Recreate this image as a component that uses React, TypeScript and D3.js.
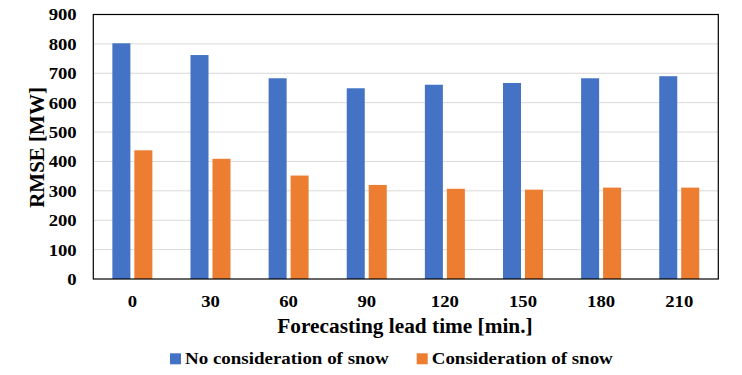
import React from "react";
import * as d3 from "d3";

const categories = ["0", "30", "60", "90", "120", "150", "180", "210"];
const noSnow = [802, 762, 683, 649, 661, 667, 683, 690];
const withSnow = [438, 409, 352, 320, 307, 304, 311, 311];
const seriesNames = ["No consideration of snow", "Consideration of snow"];
const yTicks = [0, 100, 200, 300, 400, 500, 600, 700, 800, 900];

const W = 742;
const H = 375;
const left = 93.3;
const right = 718.3;
const top = 14.5;
const bottom = 279;
const colors = ["#4472C4", "#ED7D31"];
const font = "Liberation Serif";

function SText({ x, y, sx = 1, anchor = "start", size, dy, children }: any) {
  return (
    <g transform={`translate(${x},${y}) scale(${sx},1)`}>
      <text x={0} y={0} dy={dy} textAnchor={anchor} fontSize={size}>
        {children}
      </text>
    </g>
  );
}

export default function App() {
  const y = d3.scaleLinear().domain([0, 900]).range([bottom, top]);
  const x0 = d3
    .scaleBand<string>()
    .domain(categories)
    .range([left, right])
    .paddingInner(0.488)
    .paddingOuter(0.244);
  const x1 = d3
    .scaleBand<string>()
    .domain(seriesNames)
    .range([0, x0.bandwidth()])
    .paddingInner(0.18);
  const series = [noSnow, withSnow];

  return (
    <svg
      width={W}
      height={H}
      style={{ position: "absolute", left: 0, top: 0, background: "#fff", fontFamily: font, fontWeight: 700 }}
    >
      <rect x={0} y={0} width={W} height={H} fill="#fff" />
      {yTicks.map((t) => (
        <g key={t}>
          {t > 0 && t < 900 && (
            <line x1={left} x2={right} y1={y(t)} y2={y(t)} stroke="#d9d9d9" strokeWidth={1} />
          )}
          <SText x={76.7} y={y(t)} dy="0.35em" anchor="end" size={17} sx={1.1}>
            {t}
          </SText>
        </g>
      ))}
      {series.map((vals, si) =>
        vals.map((v, i) => (
          <rect
            key={`${si}-${i}`}
            x={(x0(categories[i]) ?? 0) + (x1(seriesNames[si]) ?? 0)}
            y={y(v)}
            width={x1.bandwidth()}
            height={bottom - y(v)}
            fill={colors[si]}
          />
        ))
      )}
      <rect
        x={left}
        y={top}
        width={right - left}
        height={bottom - top}
        fill="none"
        stroke="#000"
        strokeWidth={1.2}
      />
      {categories.map((c) => (
        <SText
          key={c}
          x={(x0(c) ?? 0) + x0.bandwidth() / 2}
          y={307.3}
          anchor="middle"
          size={17}
          sx={1.1}
        >
          {c}
        </SText>
      ))}
      <SText x={405} y={333} anchor="middle" size={20.5} sx={1.04}>
        Forecasting lead time [min.]
      </SText>
      <text
        transform={`translate(43.5, 147.5) rotate(-90)`}
        textAnchor="middle"
        fontSize={21}
      >
        RMSE [MW]
      </text>
      <g>
        <rect x={170} y={353.3} width={11} height={11} fill={colors[0]} />
        <SText x={185} y={364} size={17} sx={1.115}>
          {seriesNames[0]}
        </SText>
        <rect x={416.7} y={353.3} width={11} height={11} fill={colors[1]} />
        <SText x={431.7} y={364} size={17} sx={1.115}>
          {seriesNames[1]}
        </SText>
      </g>
    </svg>
  );
}
